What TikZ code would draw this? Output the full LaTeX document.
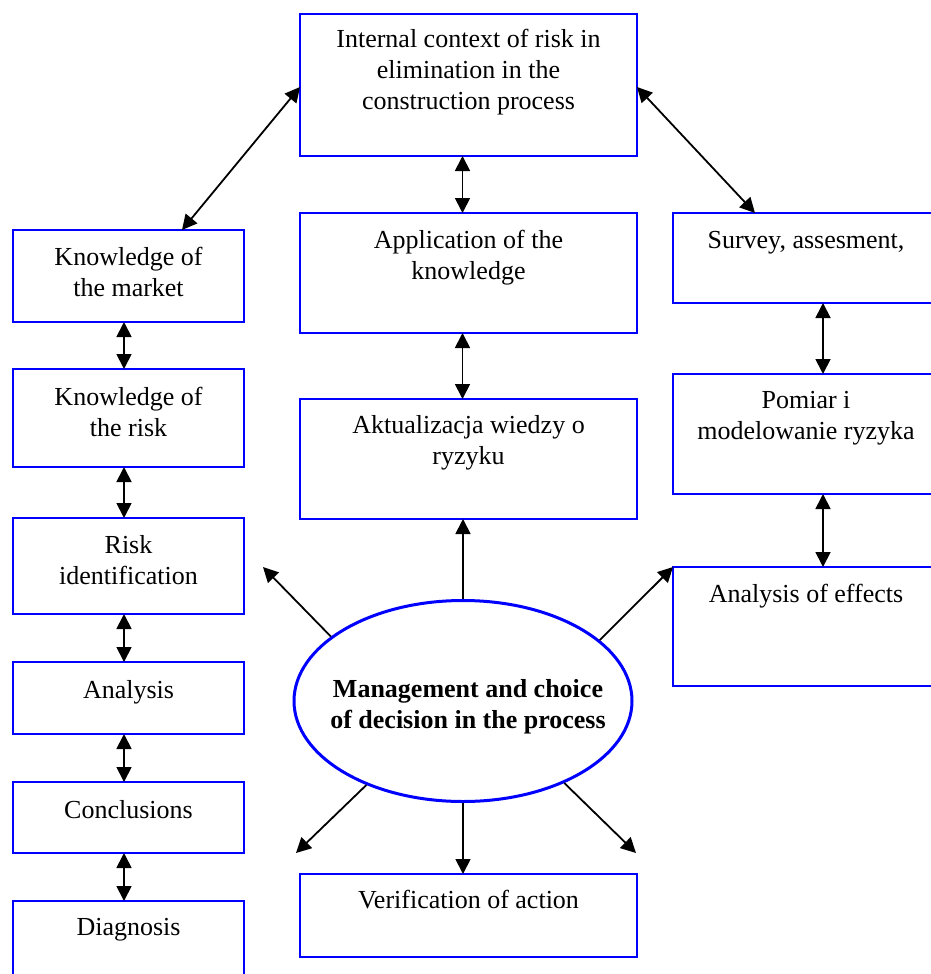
\documentclass[tikz,border=0pt]{standalone}
\usepackage{fontspec}
\setmainfont{Liberation Serif}
\usetikzlibrary{arrows.meta,shapes.geometric}
\newcommand\boxlines[1]{\begin{tabular}[t]{@{}c@{}}#1\end{tabular}}
\begin{document}
\begin{tikzpicture}[x=1pt,y=-1pt,
  bx/.style={draw=blue,line width=1.6pt,rectangle,inner sep=0pt,outer sep=0pt},
  txt/.style={font=\fontsize{26}{31}\selectfont,anchor=base,inner sep=0pt},
  tip/.tip={Triangle[length=15pt,width=15pt]},
  dbl/.style={line width=1.8pt,tip-tip},
  sgl/.style={line width=1.8pt,-tip}]
\useasboundingbox (0,0) rectangle (930,974);

% left column
\node[bx,minimum width=231pt,minimum height=92pt] (market) at (128.5,276) {};
\node[bx,minimum width=231pt,minimum height=98pt] (risk) at (128.5,418) {};
\node[bx,minimum width=231pt,minimum height=96pt] (riskid) at (128.5,566) {};
\node[bx,minimum width=231pt,minimum height=72pt] (anal) at (128.5,698) {};
\node[bx,minimum width=231pt,minimum height=71pt] (concl) at (128.5,817.5) {};
\node[bx,minimum width=231pt,minimum height=89pt] (diag) at (128.5,945.5) {};

% middle column
\node[bx,minimum width=337pt,minimum height=142pt] (top) at (468.5,85) {};
\node[bx,minimum width=337pt,minimum height=120pt] (app) at (468.5,273) {};
\node[bx,minimum width=337pt,minimum height=120pt] (akt) at (468.5,459) {};
\node[bx,minimum width=337pt,minimum height=83pt] (ver) at (468.5,915.5) {};

% right column
\node[bx,minimum width=266pt,minimum height=90pt] (survey) at (806,258) {};
\node[bx,minimum width=266pt,minimum height=120pt] (pomiar) at (806,434) {};
\node[bx,minimum width=266pt,minimum height=119pt] (effects) at (806,626.5) {};

% texts
\node[txt] (tmarket) at ([yshift=-35pt]market.north) {\boxlines{Knowledge of\\the market}};
\node[txt] (trisk) at ([yshift=-36pt]risk.north) {\boxlines{Knowledge of\\the risk}};
\node[txt] (triskid) at ([yshift=-35pt]riskid.north) {\boxlines{Risk\\identification}};
\node[txt] (tanal) at ([yshift=-36pt]anal.north) {Analysis};
\node[txt] (tconcl) at ([yshift=-36pt]concl.north) {Conclusions};
\node[txt] (tdiag) at ([yshift=-34pt]diag.north) {Diagnosis};
\node[txt] (ttop) at ([yshift=-34pt]top.north) {\boxlines{Internal context of risk in\\elimination in the\\construction process}};
\node[txt] (tapp) at ([yshift=-35pt]app.north) {\boxlines{Application of the\\knowledge}};
\node[txt] (takt) at ([yshift=-34pt]akt.north) {\boxlines{Aktualizacja wiedzy o\\ryzyku}};
\node[txt] (tver) at ([yshift=-34pt]ver.north) {Verification of action};
\node[txt] (tsurvey) at ([yshift=-35pt]survey.north) {Survey, assesment,};
\node[txt] (tpomiar) at ([yshift=-34pt]pomiar.north) {\boxlines{Pomiar i\\modelowanie ryzyka}};
\node[txt] (teffects) at ([yshift=-35pt]effects.north) {Analysis of effects};

% ellipse
\node[draw=blue,line width=3pt,ellipse,minimum width=338pt,minimum height=201pt,inner sep=0pt] (ell) at (463,701) {};
\node[txt,font=\fontsize{26}{31}\selectfont\bfseries] (tell) at (468,697) {\boxlines{Management and choice\\of decision in the process}};

% free ends
\coordinate (ulend) at (263,567);
\coordinate (llend) at (296,853);
\coordinate (lrend) at (636,853);

% connectors
\draw[dbl] ([yshift=-2pt]top.west) -- ([xshift=53.5pt]market.north);
\draw[dbl] ([yshift=-2pt]top.east) -- ([xshift=-51pt]survey.north);
\draw[dbl] ([xshift=-6pt]top.south) -- ([xshift=-6pt]app.north);
\draw[dbl] ([xshift=-6pt]app.south) -- ([xshift=-6pt]akt.north);

\draw[dbl] ([xshift=-4.5pt]market.south) -- ([xshift=-4.5pt]risk.north);
\draw[dbl] ([xshift=-4.5pt]risk.south) -- ([xshift=-4.5pt]riskid.north);
\draw[dbl] ([xshift=-4.5pt]riskid.south) -- ([xshift=-4.5pt]anal.north);
\draw[dbl] ([xshift=-4.5pt]anal.south) -- ([xshift=-4.5pt]concl.north);
\draw[dbl] ([xshift=-4.5pt]concl.south) -- ([xshift=-4.5pt]diag.north);

\draw[dbl] ([xshift=17pt]survey.south) -- ([xshift=17pt]pomiar.north);
\draw[dbl] ([xshift=17pt]pomiar.south) -- ([xshift=17pt]effects.north);

\draw[sgl] (ell.north) -- (ell.north |- akt.south);
\draw[sgl] (ell.south) -- (ell.south |- ver.north);
\draw[sgl] (ell.154) -- (ulend);
\draw[sgl] (ell.24.4) -- (effects.north west);
\draw[sgl] (ell.-139.8) -- (llend);
\draw[sgl] (ell.-39.1) -- (lrend);
\end{tikzpicture}
\end{document}
